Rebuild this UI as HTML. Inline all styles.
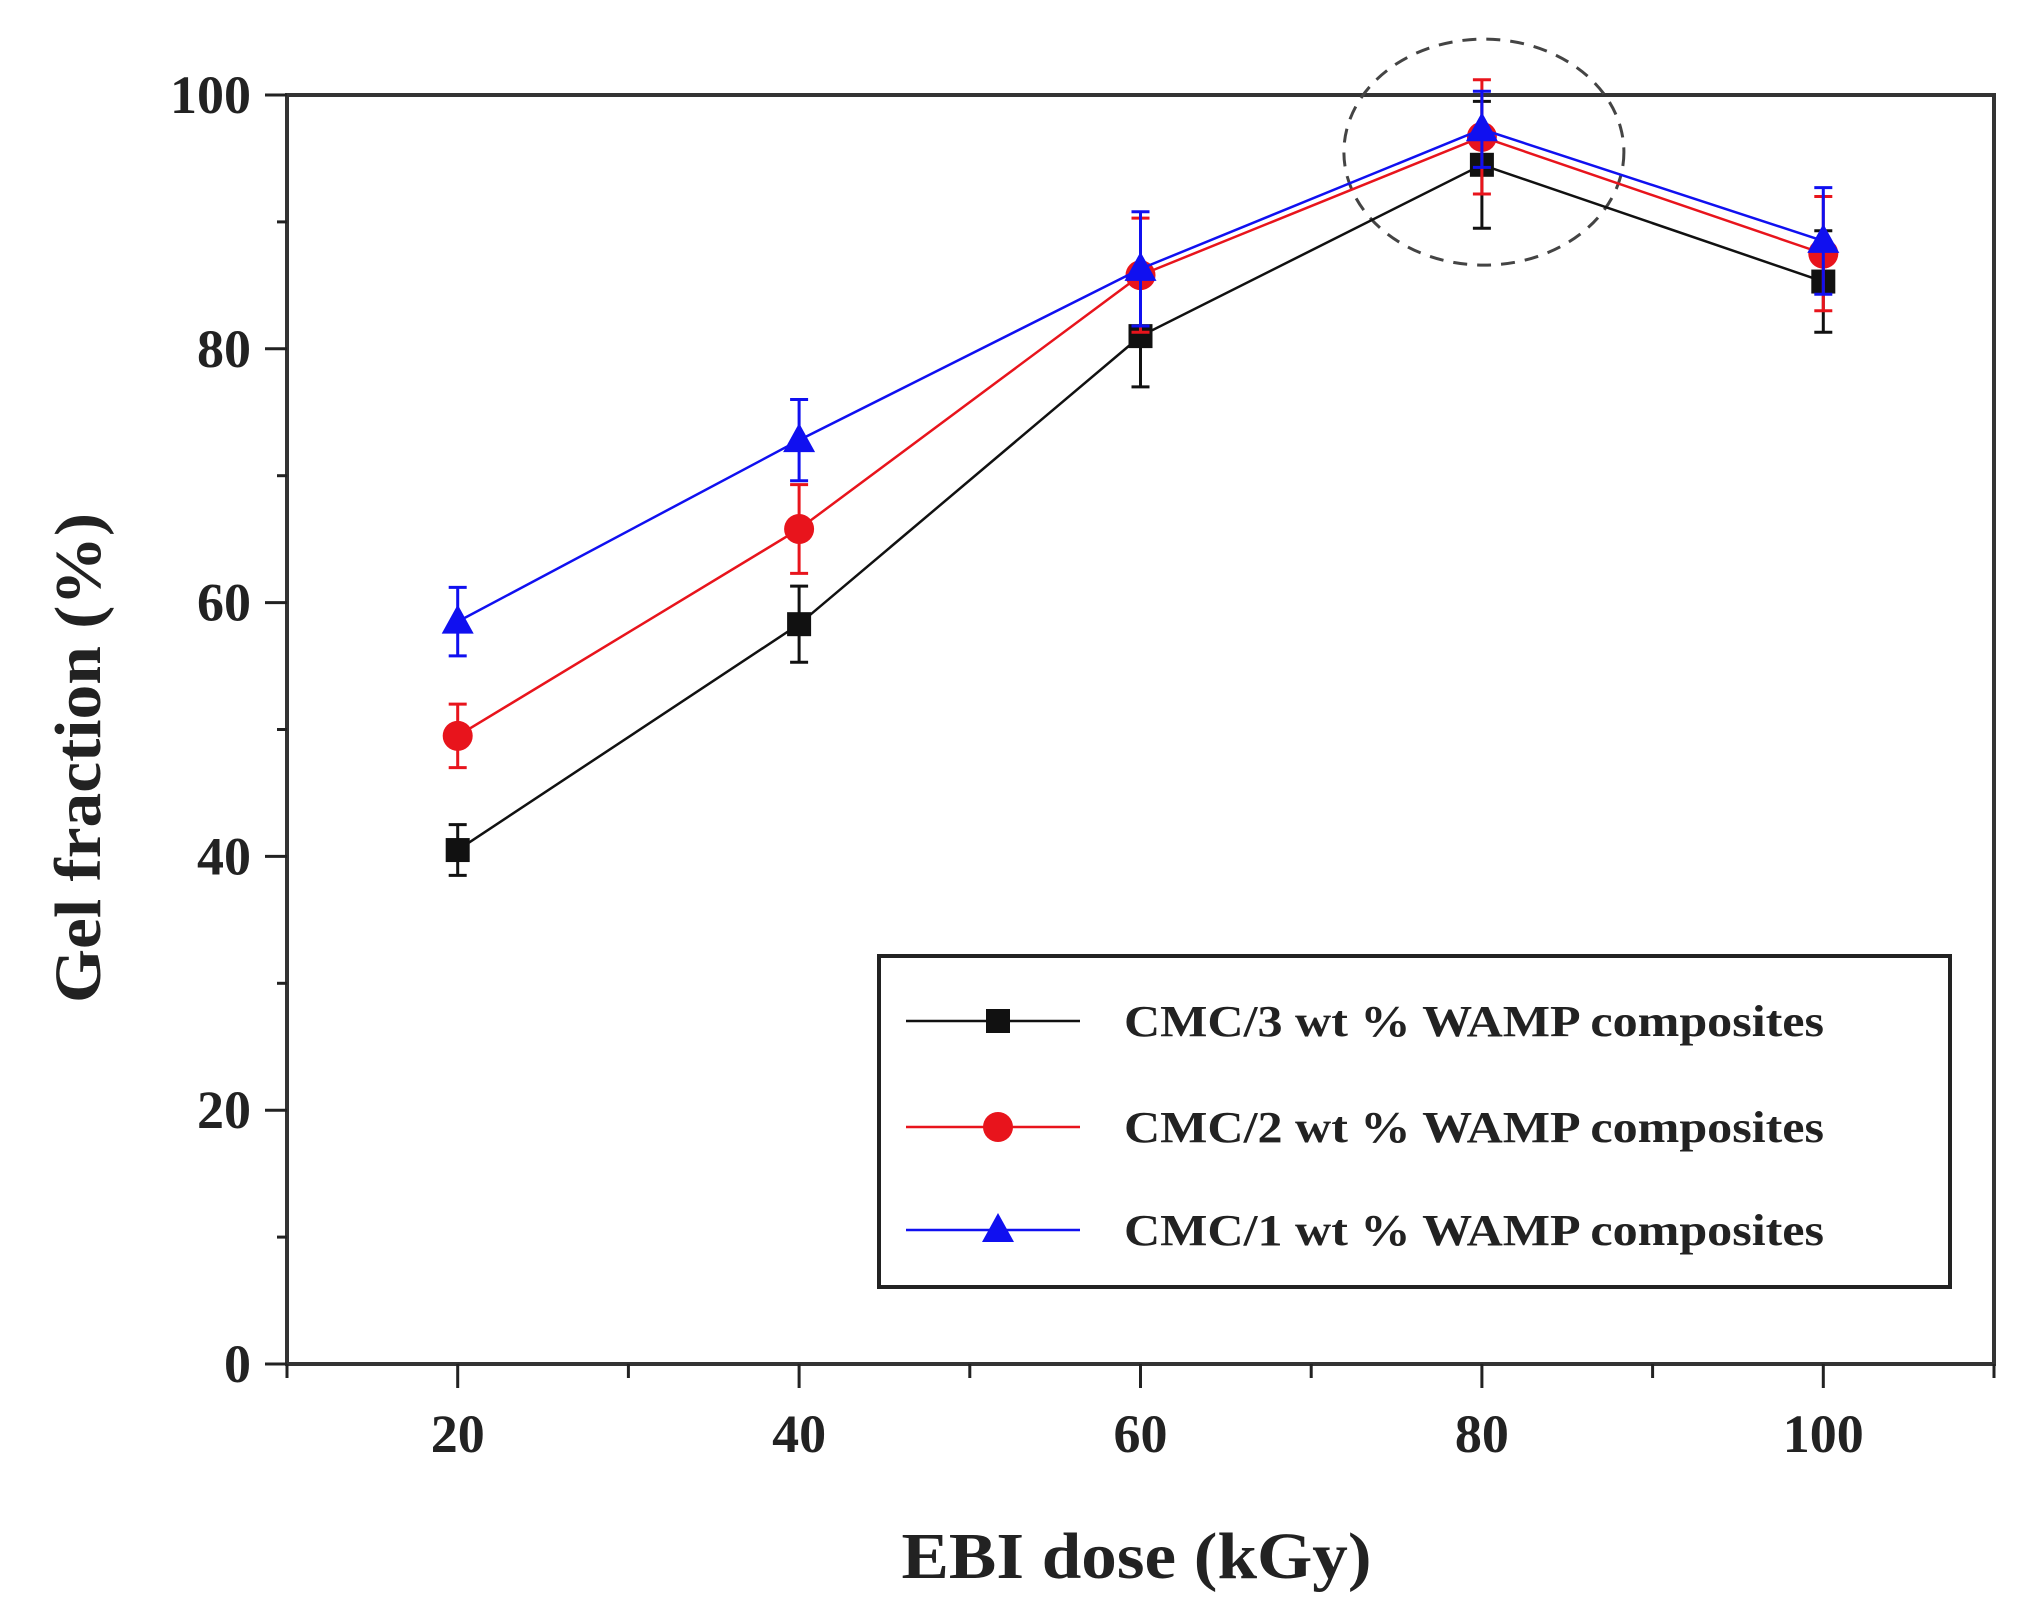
<!DOCTYPE html>
<html><head><meta charset="utf-8"><style>
html,body{margin:0;padding:0;background:#fff}
svg{display:block}
text{font-family:"Liberation Serif",serif}
</style></head><body>
<svg id="chart" width="2038" height="1622" viewBox="0 0 2038 1622" xmlns="http://www.w3.org/2000/svg"></svg>
<script>
const doses = [20, 40, 60, 80, 100];
const black = [40.5, 58.3, 81.0, 94.5, 85.3];
const blackErr = [2.0, 3.0, 4.0, 5.0, 4.0];
const red = [49.5, 65.8, 85.8, 96.7, 87.5];
const redErr = [2.5, 3.5, 4.5, 4.5, 4.5];
const blue = [58.5, 72.8, 86.3, 97.3, 88.5];
const blueErr = [2.7, 3.2, 4.5, 3.0, 4.2];
const xTicks = [20, 40, 60, 80, 100];
const yTicks = [0, 20, 40, 60, 80, 100];
const legendLabels = ["CMC/3 wt %  WAMP composites", "CMC/2 wt %  WAMP composites", "CMC/1 wt %  WAMP composites"];

const L=287,R=1994,T=95,B=1364, XMIN=10,XMAX=110,YMIN=0,YMAX=100;
const sx=v=>L+(v-XMIN)/(XMAX-XMIN)*(R-L);
const sy=v=>B-(v-YMIN)/(YMAX-YMIN)*(B-T);
const svg=document.getElementById('chart');
const NS='http://www.w3.org/2000/svg';
function mk(tag,attrs,parent){const e=document.createElementNS(NS,tag);for(const k in attrs)e.setAttribute(k,attrs[k]);(parent||svg).appendChild(e);return e;}

const frame=mk('rect',{x:L,y:T,width:R-L,height:B-T,fill:'none',stroke:'#333',"stroke-width":4});



for(let v=10;v<=110;v+=10){
  const major=xTicks.includes(v);
  const t=mk('line',{x1:sx(v),x2:sx(v),y1:B,y2:B+(major?24:14),stroke:'#222',"stroke-width":3});
  
  
}
xTicks.forEach(v=>{
  const t=mk('text',{x:sx(v),y:B+88,"text-anchor":"middle","font-size":54,"font-weight":"bold",fill:'#222'});
  t.textContent=v;
  
  
});
for(let v=0;v<=100;v+=10){
  const major=yTicks.includes(v);
  const t=mk('line',{x1:L-(major?22:10),x2:L,y1:sy(v),y2:sy(v),stroke:'#222',"stroke-width":3});
  
  
}
yTicks.forEach(v=>{
  const t=mk('text',{x:L-36,y:sy(v)+18,"text-anchor":"end","font-size":54,"font-weight":"bold",fill:'#222'});
  t.textContent=v;
  
  
});
const xt=mk('text',{x:(L+R)/2-4,y:1578,"text-anchor":"middle","font-size":66,"font-weight":"bold",fill:'#222',textLength:470,lengthAdjust:'spacingAndGlyphs'});
xt.textContent='EBI dose (kGy)';


const yt=mk('text',{x:0,y:0,"text-anchor":"middle","font-size":66,"font-weight":"bold",fill:'#222',textLength:490,lengthAdjust:'spacingAndGlyphs',transform:'translate(100,758) rotate(-90)'});
yt.textContent='Gel fraction (%)';



const c=mk('ellipse',{cx:sx(80)+2,cy:sy(95.5),rx:140,ry:113,fill:'none',stroke:'#444',"stroke-width":3,"stroke-dasharray":"14 10"});



const series=[
 {name:'cmc-3wt',vals:black,err:blackErr,color:'#111',marker:'square'},
 {name:'cmc-2wt',vals:red,err:redErr,color:'#e8141c',marker:'circle'},
 {name:'cmc-1wt',vals:blue,err:blueErr,color:'#1010f0',marker:'triangle'}
];
function marker(type,x,y,color,g){
  let m;
  if(type==='square') m=mk('rect',{x:x-12,y:y-12,width:24,height:24,fill:color},g);
  else if(type==='circle') m=mk('circle',{cx:x,cy:y,r:15,fill:color},g);
  else m=mk('polygon',{points:`${x},${y-17} ${x-16},${y+12} ${x+16},${y+12}`,fill:color},g);
  return m;
}
series.forEach(s=>{
  const g=mk('g',{});
  
  
  const pl=mk('polyline',{points:doses.map((d,i)=>sx(d)+','+sy(s.vals[i])).join(' '),fill:'none',stroke:s.color,"stroke-width":2.5},g);
  
  
  doses.forEach((d,i)=>{
    const x=sx(d),y1=sy(s.vals[i]+s.err[i]),y2=sy(s.vals[i]-s.err[i]);
    const e=mk('path',{d:`M${x},${y1}V${y2}M${x-9},${y1}H${x+9}M${x-9},${y2}H${x+9}`,stroke:s.color,"stroke-width":3,fill:'none'},g);
    
    
    const m=marker(s.marker,x,sy(s.vals[i]),s.color,g);
    
    
  });
});

const lg=mk('g',{});


const lb=mk('rect',{x:879,y:956,width:1071,height:331,fill:'#fff',stroke:'#222',"stroke-width":4},lg);


const ly=[1021,1127,1230];
series.forEach((s,i)=>{
  const e=mk('g',{},lg);
  
  
  mk('line',{x1:906,x2:1080,y1:ly[i],y2:ly[i],stroke:s.color,"stroke-width":2.5},e);
  marker(s.marker,998,ly[i],s.color,e);
  const t=mk('text',{x:1124,y:ly[i]+15,"font-size":44,"font-weight":"bold",fill:'#222',textLength:700,lengthAdjust:'spacingAndGlyphs'},e);
  t.textContent=legendLabels[i];
});
</script>
</body></html>
